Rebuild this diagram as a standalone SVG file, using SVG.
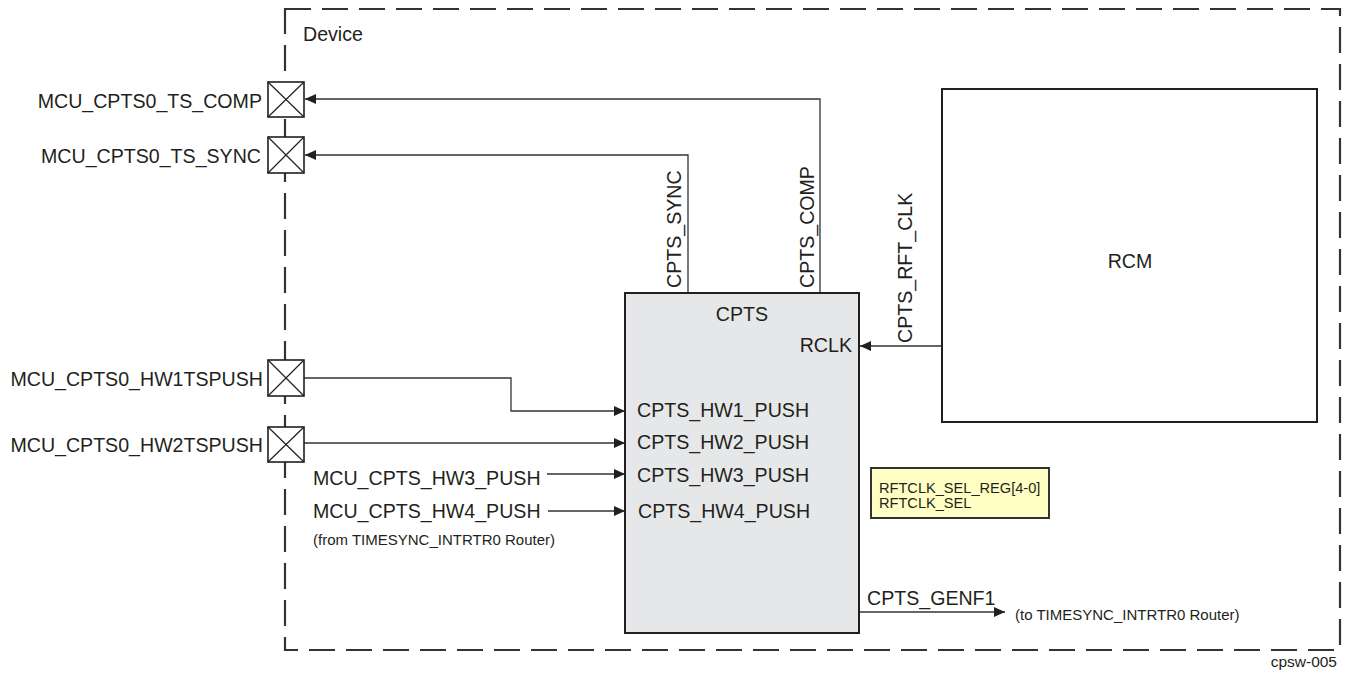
<svg xmlns="http://www.w3.org/2000/svg" width="1345" height="680" viewBox="0 0 1345 680">
<style>
text{font-family:"Liberation Sans",Arial,sans-serif;fill:#231f20}
.l{font-size:19.6px}
.s{font-size:15px}
.y{font-size:14.6px}
.c{font-size:15.5px}
.w{fill:none;stroke:#333;stroke-width:1.3}
.pad{fill:#fff;stroke:#231f20;stroke-width:1.6}
.px{stroke:#231f20;stroke-width:1.2}
</style>
<defs>
<marker id="ah" markerUnits="userSpaceOnUse" markerWidth="12" markerHeight="10" refX="11" refY="5" orient="auto">
<path d="M0,0 L11,5 L0,10 Z" fill="#231f20"/>
</marker>
</defs>
<rect width="1345" height="680" fill="#fff"/>
<g id="device">
<rect x="285" y="9" width="1055" height="641" fill="none" stroke="#333" stroke-width="2.2" stroke-dasharray="26,11"/>
<text class="l" x="303" y="41">Device</text>
</g>
<g id="connectors">
<path class="w" d="M820,293 V99 H305" marker-end="url(#ah)"/>
<path class="w" d="M688,293 V155 H305" marker-end="url(#ah)"/>
<path class="w" d="M942,346 H860" marker-end="url(#ah)"/>
<path class="w" d="M304,378 H511 V411 H625" marker-end="url(#ah)"/>
<path class="w" d="M304,443 H625" marker-end="url(#ah)"/>
<path class="w" d="M547,474 H625" marker-end="url(#ah)"/>
<path class="w" d="M548,511 H625" marker-end="url(#ah)"/>
<path class="w" d="M859,612 H1005" marker-end="url(#ah)"/>
<text class="l" transform="translate(681,288) rotate(-90)">CPTS_SYNC</text>
<text class="l" transform="translate(814,288) rotate(-90)">CPTS_COMP</text>
<text class="l" transform="translate(912,343) rotate(-90)">CPTS_RFT_CLK</text>
<text class="l" x="867" y="605">CPTS_GENF1</text>
<text class="s" x="1015" y="620">(to TIMESYNC_INTRTR0 Router)</text>
<text class="l" x="313" y="485">MCU_CPTS_HW3_PUSH</text>
<text class="l" x="313" y="518">MCU_CPTS_HW4_PUSH</text>
<text class="s" x="313" y="545">(from TIMESYNC_INTRTR0 Router)</text>
</g>
<g id="pad_ts_comp">
<rect class="pad" x="268" y="82" width="36" height="35"/>
<path class="px" d="M268,82 L304,117 M304,82 L268,117"/>
<text class="l" x="262" y="108" text-anchor="end">MCU_CPTS0_TS_COMP</text>
</g>
<g id="pad_ts_sync">
<rect class="pad" x="268" y="137" width="36" height="36"/>
<path class="px" d="M268,137 L304,173 M304,137 L268,173"/>
<text class="l" x="261" y="163" text-anchor="end">MCU_CPTS0_TS_SYNC</text>
</g>
<g id="pad_hw1">
<rect class="pad" x="268" y="360" width="36" height="36"/>
<path class="px" d="M268,360 L304,396 M304,360 L268,396"/>
<text class="l" x="263" y="386" text-anchor="end">MCU_CPTS0_HW1TSPUSH</text>
</g>
<g id="pad_hw2">
<rect class="pad" x="268" y="427" width="36" height="35"/>
<path class="px" d="M268,427 L304,462 M304,427 L268,462"/>
<text class="l" x="263" y="452" text-anchor="end">MCU_CPTS0_HW2TSPUSH</text>
</g>
<g id="cpts">
<rect x="625" y="293" width="234" height="340" fill="#e6e7e8" stroke="#231f20" stroke-width="2"/>
<text class="l" x="742" y="321" text-anchor="middle">CPTS</text>
<text class="l" x="852" y="352" text-anchor="end">RCLK</text>
<text class="l" x="637" y="417">CPTS_HW1_PUSH</text>
<text class="l" x="637" y="449">CPTS_HW2_PUSH</text>
<text class="l" x="637" y="482">CPTS_HW3_PUSH</text>
<text class="l" x="638" y="518">CPTS_HW4_PUSH</text>
</g>
<g id="rcm">
<rect x="942" y="89" width="375" height="333" fill="#fff" stroke="#231f20" stroke-width="2"/>
<text class="l" x="1130" y="268" text-anchor="middle">RCM</text>
</g>
<g id="rftclk_sel">
<rect x="871" y="468" width="178" height="50" fill="#ffffc4" stroke="#333" stroke-width="2"/>
<text class="y" x="879" y="493">RFTCLK_SEL_REG[4-0]</text>
<text class="y" x="879" y="508">RFTCLK_SEL</text>
</g>
<text class="c" x="1337" y="667" text-anchor="end">cpsw-005</text>
</svg>
